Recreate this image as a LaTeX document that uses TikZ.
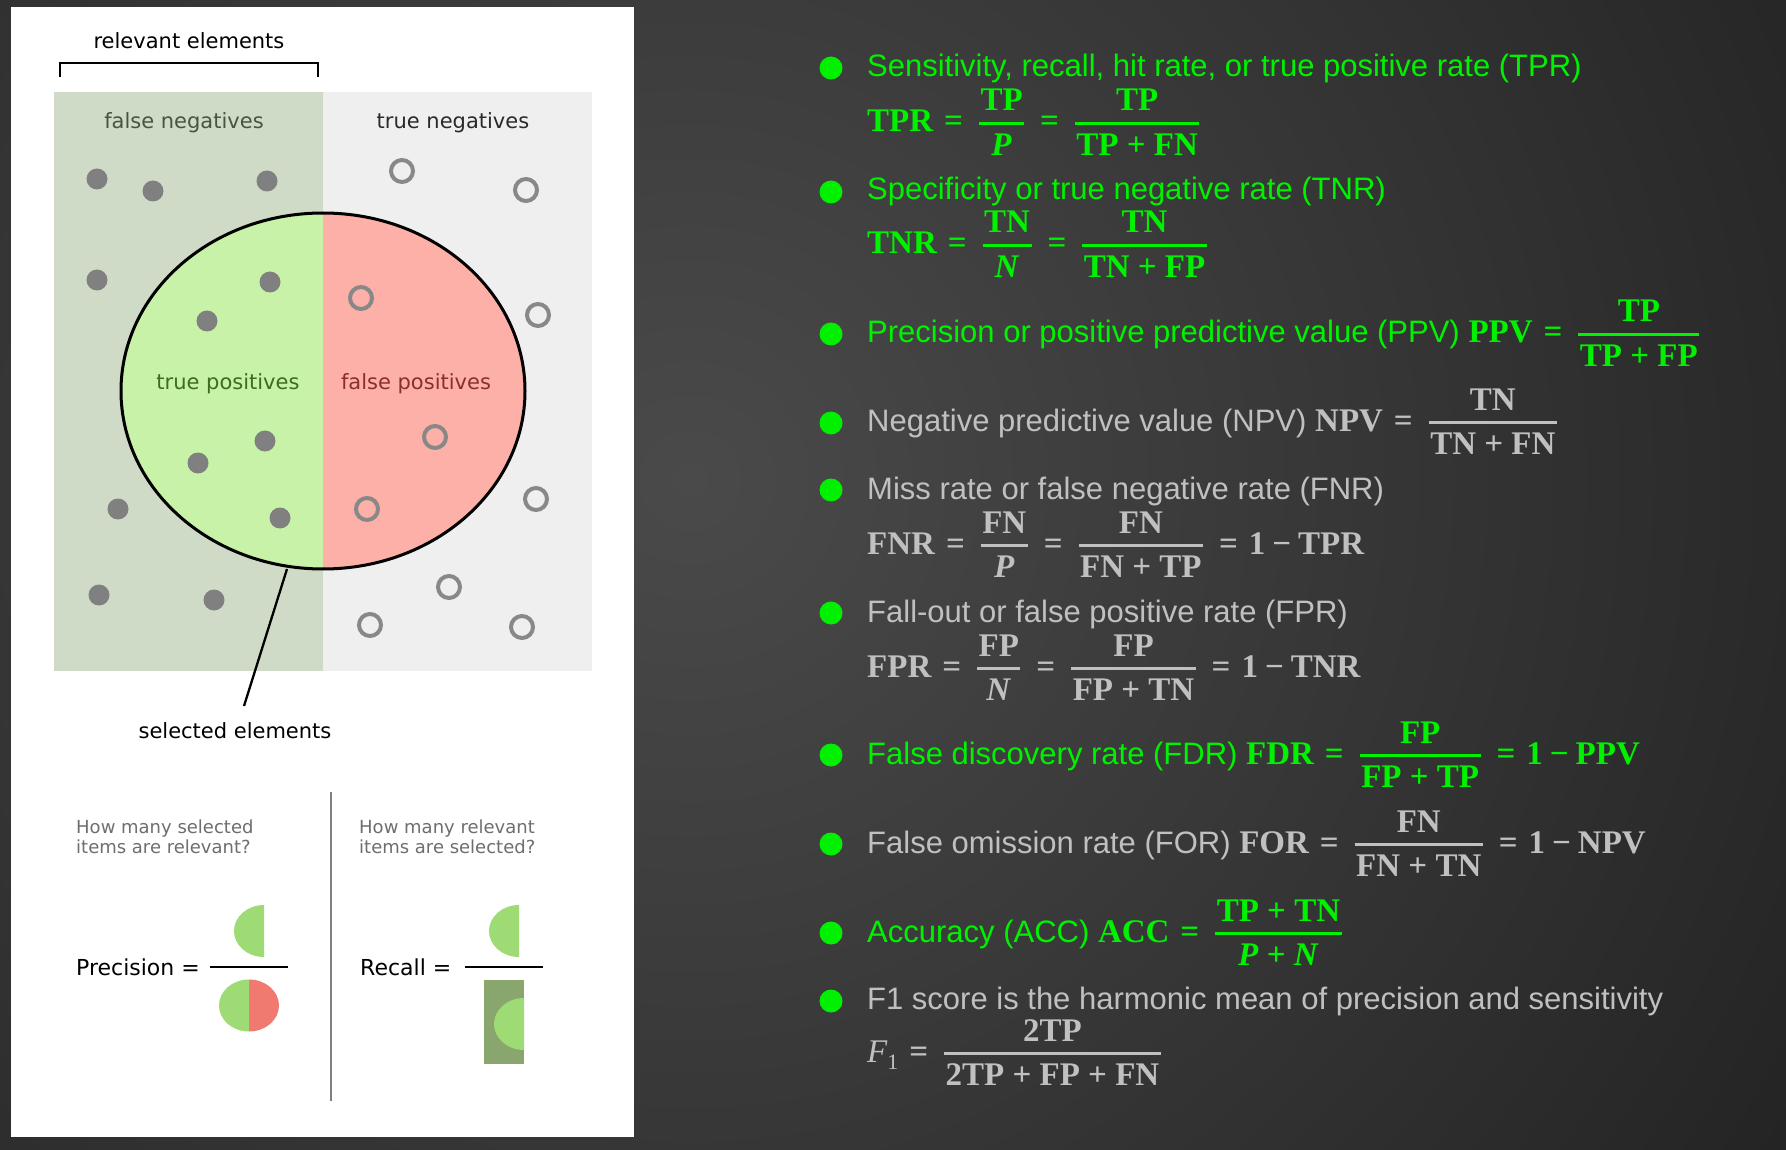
\documentclass[tikz,border=0pt]{standalone}
\usepackage{fontspec}
\usepackage{graphicx}
\setmainfont{Liberation Sans}
\newfontfamily\serifb{Liberation Serif}
\newfontfamily\djv{DejaVu Sans}

\definecolor{bg0}{HTML}{4A4A4A}
\definecolor{bg1}{HTML}{333333}
\definecolor{bg2}{HTML}{1A1A1A}
\definecolor{bg3}{HTML}{0F0F0F}
\definecolor{bg4}{HTML}{090909}
\definecolor{fnfill}{HTML}{D0DBC7}
\definecolor{tnfill}{HTML}{EFEFEF}
\definecolor{tpfill}{HTML}{C7F2A8}
\definecolor{fpfill}{HTML}{FDB0A8}
\definecolor{fntext}{HTML}{465540}
\definecolor{tntext}{HTML}{2A2A2A}
\definecolor{tptext}{HTML}{3D6B1F}
\definecolor{fptext}{HTML}{8B2E2E}
\definecolor{dotgray}{HTML}{808080}
\definecolor{ringgray}{HTML}{888888}
\definecolor{qgray}{HTML}{6E6E6E}
\definecolor{halfg}{HTML}{9EDB74}
\definecolor{halfr}{HTML}{F07A70}
\definecolor{rectg}{HTML}{88A66E}
\definecolor{tgreen}{HTML}{00F200}
\definecolor{tgray}{HTML}{C0C0C0}
\definecolor{bulgreen}{HTML}{00F000}

\pgfdeclareradialshading{bgshade}{\pgfpoint{0bp}{0bp}}{color(0bp)=(bg0); color(15bp)=(bg1); color(31bp)=(bg2); color(42bp)=(bg3); color(50bp)=(bg4)}

\newsavebox\frnum
\newsavebox\frden
\newlength\frw
\newcommand\fr[2]{%
  \sbox\frnum{#1}\sbox\frden{#2}%
  \dp\frnum=0pt \ht\frden=0pt
  \ifdim\wd\frnum>\wd\frden \setlength\frw{\wd\frnum}\else\setlength\frw{\wd\frden}\fi
  \addtolength\frw{3pt}%
  \hspace{5pt}\raisebox{21pt}{\vtop{\hbox to\frw{\hss\usebox\frnum\hss}\kern10.85pt\hrule height3.3pt\kern30.5pt\hbox to\frw{\hss\usebox\frden\hss}}}\hspace{5pt}}
\newcommand\eq{\hspace{11pt}=\hspace{11pt}}
\newcommand\mm{\hspace{7pt}−\hspace{7pt}}
\newcommand\mi[1]{\textit{#1}}
\newcommand\fm{\serifb\bfseries\fontsize{33}{39}\selectfont}

\begin{document}
\begin{tikzpicture}[x=1pt,y=-1pt,
  lab/.style={font=\djv\fontsize{21}{25}\selectfont, inner sep=0pt, anchor=base},
  qtxt/.style={font=\djv\fontsize{18}{20}\selectfont, text=qgray, inner sep=0pt, anchor=base west},
  big/.style={font=\djv\fontsize{22}{26}\selectfont, inner sep=0pt, anchor=base west},
  dot/.style={circle, fill=dotgray, minimum size=21pt, inner sep=0pt},
  ring/.style={circle, draw=ringgray, line width=4pt, minimum size=22pt, inner sep=0pt},
  bul/.style={circle, fill=bulgreen, minimum size=23pt, inner sep=0pt},
  row/.style={inner sep=0pt, anchor=base west, font=\fontsize{31}{37}\selectfont},
  grn/.style={row, text=tgreen},
  gry/.style={row, text=tgray}]

\useasboundingbox (0,0) rectangle (1786,1150);
\begin{scope}
  \clip (0,0) rectangle (1786,1150);
  \fill[bg4] (0,0) rectangle (1786,1150);
  \shade[shading=bgshade] (690,480) circle (1300pt);
\end{scope}

% left panel
\fill[white] (11,7) rectangle (634,1137);
\fill[fnfill] (54,92) rectangle (323,671);
\fill[tnfill] (323,92) rectangle (592,671);

\node[lab] (rel) at (189,49) {relevant elements};
\draw[line width=2.3pt, line join=miter] (60,77) -- (60,63) -- (318,63) -- (318,77);

\node[lab, text=fntext] (fnl) at (184,129) {false negatives};
\node[lab, text=tntext] (tnl) at (453,129) {true negatives};

\begin{scope}
  \clip (323,391) ellipse (202pt and 178pt);
  \fill[tpfill] (100,200) rectangle (323,580);
  \fill[fpfill] (323,200) rectangle (540,580);
\end{scope}

% relevant items (filled dots)
\foreach \i/\p in {1/{(97,179)},2/{(153,191)},3/{(267,181)},4/{(97,280)},5/{(270,282)},6/{(207,321)},7/{(265,441)},8/{(198,463)},9/{(118,509)},10/{(280,518)},11/{(99,595)},12/{(214,600)}}
  \node[dot] (d\i) at \p {};
% non-relevant items (rings)
\foreach \i/\p in {1/{(402,171)},2/{(526,190)},3/{(361,298)},4/{(538,315)},5/{(435,437)},6/{(367,509)},7/{(536,499)},8/{(449,587)},9/{(370,625)},10/{(522,627)}}
  \node[ring] (r\i) at \p {};

\draw[line width=3pt] (323,391) ellipse (202pt and 178pt);

\node[lab, text=tptext] (tpl) at (228,389) {true positives};
\node[lab, text=fptext] (fpl) at (416,389) {false positives};

\coordinate (selA) at (287,569);
\coordinate (selB) at (244,706);
\draw[line width=2.3pt] (selA) -- (selB);
\node[lab] (sel) at (235,738) {selected elements};

% bottom: precision / recall
\draw[dotgray, line width=2pt] (331,792) -- (331,1101);
\node[qtxt] (q1a) at (76,833) {How many selected};
\node[qtxt] (q1b) at (76,853) {items are relevant?};
\node[qtxt] (q2a) at (359,833) {How many relevant};
\node[qtxt] (q2b) at (359,853) {items are selected?};

\node[big] (prec) at (76,975) {Precision =};
\node[big] (rec) at (360,975) {Recall =};
\draw[line width=2pt] (210,967) -- (288,967);
\draw[line width=2pt] (465,967) -- (543,967);

\begin{scope}
  \clip (220,900) rectangle (264,960);
  \fill[halfg] (264,931) ellipse (30pt and 26pt);
\end{scope}
\begin{scope}
  \clip (210,975) rectangle (249,1040);
  \fill[halfg] (249,1005.5) ellipse (30pt and 26pt);
\end{scope}
\begin{scope}
  \clip (249,975) rectangle (290,1040);
  \fill[halfr] (249,1005.5) ellipse (30pt and 26pt);
\end{scope}
\begin{scope}
  \clip (480,900) rectangle (519,960);
  \fill[halfg] (519,931) ellipse (30pt and 26pt);
\end{scope}
\fill[rectg] (484,980) rectangle (524,1064);
\begin{scope}
  \clip (484,990) rectangle (524,1060);
  \fill[halfg] (524,1024) ellipse (30pt and 26pt);
\end{scope}

% right side
\foreach \i/\y in {1/68,2/192,3/334,4/423,5/490,6/613,7/755,8/844,9/933,10/1001}
  \node[bul] (b\i) at (831,\y) {};

\node[grn] (t1) at (867,77) {Sensitivity, recall, hit rate, or true positive rate (TPR)};
\node[grn] (f1) at (867,132) {\fm TPR\eq\fr{TP}{\mi{P}}\eq\fr{TP}{TP + FN}};
\node[grn] (t2) at (867,200) {Specificity or true negative rate (TNR)};
\node[grn] (f2) at (867,254) {\fm TNR\eq\fr{TN}{\mi{N}}\eq\fr{TN}{TN + FP}};
\node[grn] (t3) at (867,343) {Precision or positive predictive value (PPV) {\fm PPV\eq\fr{TP}{TP + FP}}};
\node[gry] (t4) at (867,431) {Negative predictive value (NPV) {\fm NPV\eq\fr{TN}{TN + FN}}};
\node[gry] (t5) at (867,499) {Miss rate or false negative rate (FNR)};
\node[gry] (f5) at (867,554) {\fm FNR\eq\fr{FN}{\mi{P}}\eq\fr{FN}{FN + TP}\eq 1\mm TPR};
\node[gry] (t6) at (867,622) {Fall-out or false positive rate (FPR)};
\node[gry] (f6) at (867,677) {\fm FPR\eq\fr{FP}{\mi{N}}\eq\fr{FP}{FP + TN}\eq 1\mm TNR};
\node[grn] (t7) at (867,764) {False discovery rate (FDR) {\fm FDR\eq\fr{FP}{FP + TP}\eq 1\mm PPV}};
\node[gry] (t8) at (867,853) {False omission rate (FOR) {\fm FOR\eq\fr{FN}{FN + TN}\eq 1\mm NPV}};
\node[grn] (t9) at (867,942) {Accuracy (ACC) {\fm ACC\eq\fr{TP + TN}{\mi{P} + \mi{N}}}};
\node[gry] (t10) at (867,1009) {F1 score is the harmonic mean of precision and sensitivity};
\node[gry] (f10) at (867,1062) {{\serifb\itshape\fontsize{33}{39}\selectfont F}\raisebox{-7pt}{\serifb\fontsize{22}{22}\selectfont 1}{\fm\eq\fr{2TP}{2TP + FP + FN}}};

\end{tikzpicture}
\end{document}
